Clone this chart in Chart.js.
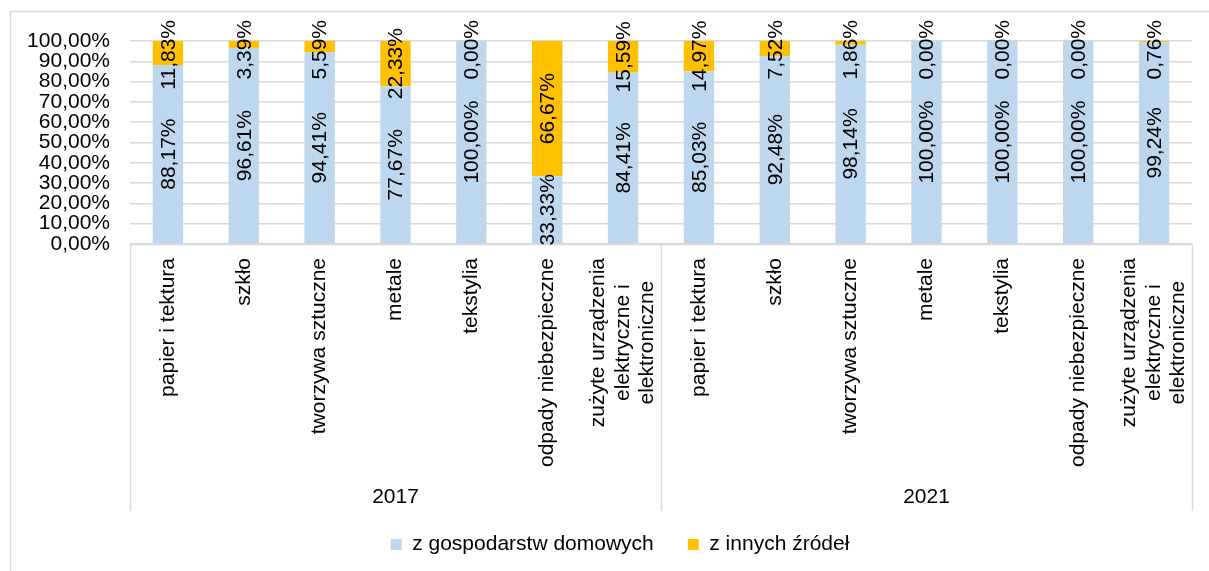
<!DOCTYPE html>
<html>
<head>
<meta charset="utf-8">
<script src="https://cdn.jsdelivr.net/npm/chart.js@4"></script>
<style>
  html, body { margin: 0; padding: 0; background: #fff; }
  #wrap { width: 1209px; height: 571px; }
</style>
</head>
<body>
<div id="wrap"><canvas id="chart"></canvas></div>
<script>
// categories per year, repeated for each group
const categories = [
  'papier i tektura', 'szkło', 'tworzywa sztuczne', 'metale', 'tekstylia',
  'odpady niebezpieczne', ['zużyte urządzenia', 'elektryczne i', 'elektroniczne'],
];
const years = ['2017', '2021'];

const householdValues = [88.17, 96.61, 94.41, 77.67, 100, 33.33, 84.41,
                         85.03, 92.48, 98.14, 100, 100, 100, 99.24];
const otherValues     = [11.83, 3.39, 5.59, 22.33, 0, 66.67, 15.59,
                         14.97, 7.52, 1.86, 0, 0, 0, 0.76];

const yTicks = [0, 10, 20, 30, 40, 50, 60, 70, 80, 90, 100];

const FONT = '"Liberation Sans", Arial, sans-serif';
const FONT_SIZE = 21;
const labels = years.flatMap(() => categories);

const pct = v => v.toFixed(2).replace('.', ',') + '%';

// draws frame, category box, rotated labels and value labels
const decorPlugin = {
  id: 'decor',
  afterLayout(chart) {
    // nudge legend a bit right, like the original
    chart.legend.left += 19;
    chart.legend.right += 19;
  },
  afterDraw(chart) {
    const ctx = chart.ctx;
    const x = chart.scales.x;
    const area = chart.chartArea;
    ctx.save();

    // outer frame (only left and top edges are visible)
    ctx.strokeStyle = '#d9d9d9';
    ctx.lineWidth = 1.5;
    ctx.beginPath();
    ctx.moveTo(10.5, 571);
    ctx.lineTo(10.5, 11.5);
    ctx.lineTo(1209, 11.5);
    ctx.stroke();

    // category axis box
    const boxBottom = 511;
    const n = categories.length;
    const sep = (x.getPixelForValue(n - 1) + x.getPixelForValue(n)) / 2;
    ctx.beginPath();
    ctx.moveTo(area.left, area.bottom + 0.5);
    ctx.lineTo(area.right, area.bottom + 0.5);
    [area.left, sep, area.right].forEach(px => {
      ctx.moveTo(Math.round(px) + 0.5, area.bottom);
      ctx.lineTo(Math.round(px) + 0.5, boxBottom);
    });
    ctx.stroke();

    ctx.fillStyle = '#000';
    ctx.font = FONT_SIZE + 'px ' + FONT;

    // rotated category labels
    labels.forEach((lab, i) => {
      const lines = Array.isArray(lab) ? lab : [lab];
      const cx = x.getPixelForValue(i);
      const maxW = Math.max(...lines.map(l => ctx.measureText(l).width));
      ctx.save();
      ctx.translate(cx, 258 + maxW / 2);
      ctx.rotate(-Math.PI / 2);
      ctx.textAlign = 'center';
      ctx.textBaseline = 'middle';
      lines.forEach((l, k) => {
        ctx.fillText(l, 0, (k - (lines.length - 1) / 2) * 24.5);
      });
      ctx.restore();
    });

    // group labels
    ctx.textAlign = 'center';
    ctx.textBaseline = 'middle';
    years.forEach((yr, g) => {
      const left = g === 0 ? area.left : sep;
      const right = g === 0 ? sep : area.right;
      ctx.fillText(yr, (left + right) / 2, 497);
    });

    // value labels inside stacked segments; top labels kept inside the frame
    chart.data.datasets.forEach((ds, di) => {
      const meta = chart.getDatasetMeta(di);
      meta.data.forEach((el, i) => {
        const text = pct(ds.data[i]);
        let cy = (el.y + el.base) / 2;
        if (di === 1) cy = Math.max(cy, 20 + ctx.measureText(text).width / 2);
        ctx.save();
        ctx.translate(el.x + 1, cy);
        ctx.rotate(-Math.PI / 2);
        ctx.fillText(text, 0, 0);
        ctx.restore();
      });
    });

    ctx.restore();
  },
};

new Chart(document.getElementById('chart'), {
  type: 'bar',
  data: {
    labels,
    datasets: [
      {
        label: 'z gospodarstw domowych',
        data: householdValues,
        backgroundColor: '#bdd7ee',
        barPercentage: 0.4,
        categoryPercentage: 1,
      },
      {
        label: 'z innych źródeł',
        data: otherValues,
        backgroundColor: '#ffc000',
        barPercentage: 0.4,
        categoryPercentage: 1,
      },
    ],
  },
  options: {
    responsive: true,
    maintainAspectRatio: false,
    animation: false,
    layout: { padding: { left: 10, right: 17, top: 41, bottom: 6 } },
    scales: {
      x: {
        stacked: true,
        grid: { display: false },
        border: { display: false },
        ticks: { display: false },
        afterFit(scale) { scale.height = 256; },
      },
      y: {
        stacked: true,
        min: 0,
        max: 100,
        afterFit(scale) { scale.width = 120; },
        afterBuildTicks(scale) { scale.ticks = yTicks.map(v => ({ value: v })); },
        grid: { color: '#d9d9d9', lineWidth: 1.5, drawTicks: false },
        border: { display: false },
        ticks: {
          autoSkip: false,
          padding: 20,
          color: '#000',
          font: { family: FONT, size: FONT_SIZE },
          callback: v => pct(v),
        },
      },
    },
    plugins: {
      legend: {
        position: 'bottom',
        labels: {
          color: '#000',
          boxWidth: 11,
          boxHeight: 11,
          padding: 34,
          font: { family: FONT, size: FONT_SIZE },
        },
      },
      tooltip: { enabled: false },
    },
  },
  plugins: [decorPlugin],
});
</script>
</body>
</html>
